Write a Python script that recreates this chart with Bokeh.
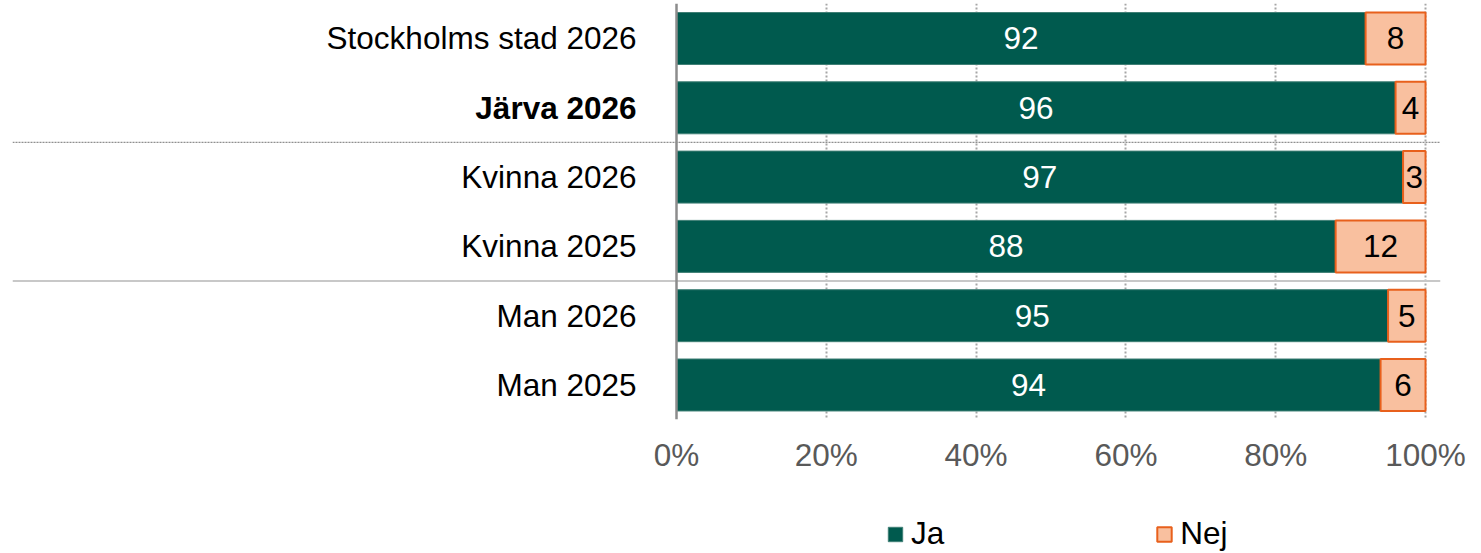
from bokeh.plotting import figure
from bokeh.layouts import column
from bokeh.models import (ColumnDataSource, Range1d, FixedTicker, Span, Legend, LegendItem)
from bokeh.core.properties import value
from bokeh.embed import file_html
from bokeh.resources import INLINE

# ---- data ----
categories = ["Stockholms stad 2026", "Järva 2026", "Kvinna 2026", "Kvinna 2025", "Man 2026", "Man 2025"]
ja = [92, 96, 97, 88, 95, 94]
nej = [8, 4, 3, 12, 5, 6]
series_names = ["Ja", "Nej"]
tick_values = [0, 20, 40, 60, 80, 100]
tick_labels = ["0%", "20%", "40%", "60%", "80%", "100%"]
bold_rows = ["Järva 2026"]
separators_after = [1, 3]  # separator below these row indices

FONT = "Liberation Sans"
FS = "31.5px"
JA_COLOR = "#005a4e"
JA_LINE = "#3f7f75"
NEJ_FILL = "#f9c09f"
NEJ_LINE = "#e8601c"

ypos = list(range(len(categories)))
src = ColumnDataSource(dict(
    y=ypos,
    cat=categories,
    ja=ja,
    nej=nej,
    total=[a + b for a, b in zip(ja, nej)],
    ja_mid=[a / 2 for a in ja],
    nej_mid=[a + b / 2 for a, b in zip(ja, nej)],
    ja_txt=[str(v) for v in ja],
    nej_txt=[str(v) for v in nej],
    style=["bold" if c in bold_rows else "normal" for c in categories],
    zero=[0] * len(categories),
))

X0, X1 = -88.65, 102.0
p = figure(
    output_backend="svg", toolbar_location=None,
    frame_width=1428, frame_height=416,
    min_border_left=12, min_border_right=34, min_border_top=3, min_border_bottom=60,
    x_range=Range1d(X0, X1), y_range=Range1d(5.498, -0.505),
    outline_line_color=None,
)
p.yaxis.visible = False
p.ygrid.visible = False

# x axis
p.xaxis.ticker = FixedTicker(ticks=tick_values)
p.xaxis.major_label_overrides = {v: l for v, l in zip(tick_values, tick_labels)}
p.xaxis.axis_line_color = None
p.xaxis.major_tick_line_color = None
p.xaxis.minor_tick_line_color = None
p.xaxis.major_label_text_font = FONT
p.xaxis.major_label_text_font_size = FS
p.xaxis.major_label_text_color = "#595959"
p.xaxis.major_label_standoff = 11

# grid
p.xgrid.ticker = FixedTicker(ticks=tick_values[1:])
p.xgrid.grid_line_color = "#a6a6a6"
p.xgrid.grid_line_dash = "2 2"
p.xgrid.grid_line_width = 2

# separators
sep_y = [s + 0.5 for s in separators_after]
p.segment(x0=X0, x1=X1, y0=sep_y[0], y1=sep_y[0], line_color="#8f8f8f", line_width=1.3, line_dash="2 1")
p.segment(x0=X0, x1=X1, y0=sep_y[1], y1=sep_y[1], line_color="#c8c8c8", line_width=2)

# bars
p.hbar(y="y", left="zero", right="ja", height=0.75, source=src,
       fill_color=JA_COLOR, line_color=JA_LINE, line_width=1)
p.hbar(y="y", left="ja", right="total", height=0.75, source=src,
       fill_color=NEJ_FILL, line_color=NEJ_LINE, line_width=2)

# zero axis line
p.add_layout(Span(location=0, dimension="height", line_color="#8c8c8c", line_width=2.5))

# value labels
p.text(x="ja_mid", y="y", text="ja_txt", source=src, text_color="white",
       text_font=value(FONT), text_font_size=FS, text_align="center", text_baseline="middle")
p.text(x="nej_mid", y="y", text="nej_txt", source=src, text_color="black",
       text_font=value(FONT), text_font_size=FS, text_align="center", text_baseline="middle")

# category labels
p.text(x=-5.34, y="y", text="cat", source=src, text_color="black", text_font_style="style",
       text_font=value(FONT), text_font_size=FS, text_align="right", text_baseline="middle")

# ---- legend strip ----
lg = figure(
    output_backend="svg", toolbar_location=None,
    frame_width=1474, frame_height=74,
    min_border_left=0, min_border_right=0, min_border_top=0, min_border_bottom=0,
    x_range=Range1d(0, 1), y_range=Range1d(0, 1), outline_line_color=None,
)
lg.axis.visible = False
lg.grid.visible = False
# legend proxies: a tiny bar placed well outside the visible range
proxy = ColumnDataSource(dict(y=[3.0], l=[3.0], r=[3.1]))
lr_ja = lg.hbar(y="y", left="l", right="r", height=0.1, source=proxy,
                fill_color=JA_COLOR, line_color=JA_LINE, line_width=1)
lr_nej = lg.hbar(y="y", left="l", right="r", height=0.1, source=proxy,
                 fill_color=NEJ_FILL, line_color=NEJ_LINE, line_width=2)
legend = Legend(items=[LegendItem(label=series_names[0], renderers=[lr_ja]),
                       LegendItem(label=series_names[1], renderers=[lr_nej])],
                orientation="horizontal", location=(886, 1),
                glyph_width=18, glyph_height=18, label_standoff=7, spacing=211,
                padding=0, margin=0, border_line_alpha=0, background_fill_alpha=0,
                label_text_font=FONT, label_text_font_size=FS, label_text_color="black",
                label_height=18)
lg.add_layout(legend, "center")

layout = column(p, lg, spacing=0)
open("out.html", "w").write(file_html(layout, INLINE))
